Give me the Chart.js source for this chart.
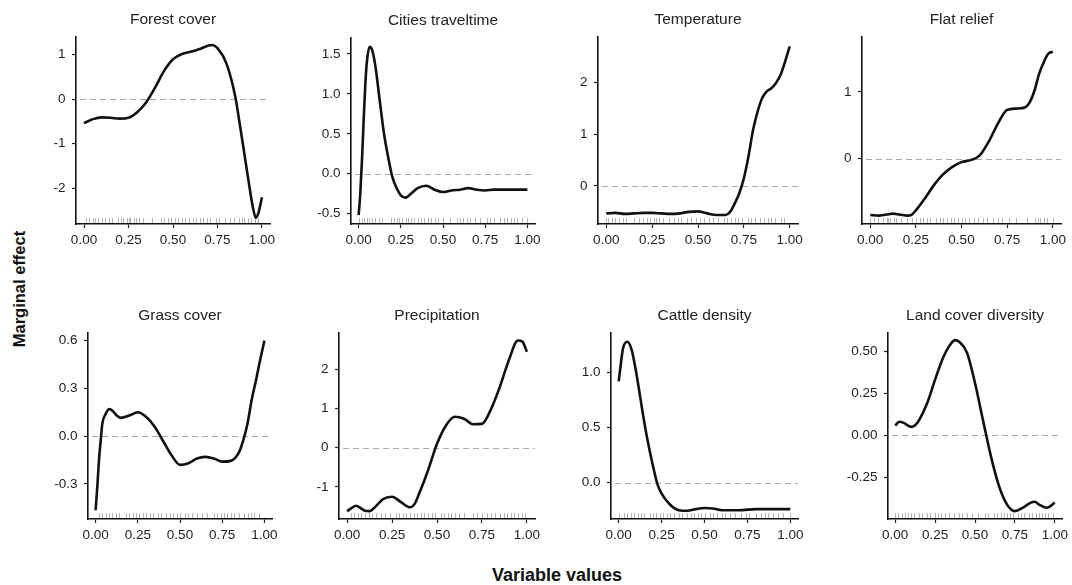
<!DOCTYPE html>
<html>
<head>
<meta charset="utf-8">
<script src="https://cdn.jsdelivr.net/npm/chart.js@4.4.1/dist/chart.umd.min.js"></script>
<style>
  body { margin: 0; background: #fff; }
  #wrap { position: relative; width: 1072px; height: 585px; overflow: hidden; font-family: "Liberation Sans", Arial, sans-serif; }
  #wrap canvas { position: absolute; }
  .axis-title { position: absolute; font-weight: bold; color: #111; white-space: nowrap; line-height: 1; transform: translate(-50%, -50%); }
  #ylab { left: 19px; top: 289px; font-size: 16.5px; transform: translate(-50%, -50%) rotate(-90deg); }
  #xlab { left: 557px; top: 575px; font-size: 18px; }
</style>
</head>
<body>
<div id="wrap">
  <div class="axis-title" id="ylab">Marginal effect</div>
  <div class="axis-title" id="xlab">Variable values</div>
</div>
<script>
const panelTitles = ['Forest cover', 'Cities traveltime', 'Temperature', 'Flat relief',
  'Grass cover', 'Precipitation', 'Cattle density', 'Land cover diversity'];
const xTickValues = [0, 0.25, 0.5, 0.75, 1];

// curves
const forestCoverX = [0, 0.05, 0.1, 0.15, 0.2, 0.25, 0.3, 0.35, 0.4, 0.45, 0.5, 0.55, 0.6, 0.65, 0.7, 0.72, 0.75, 0.8, 0.85, 0.875, 0.9, 0.925, 0.95, 0.965, 0.98, 1.0];
const forestCoverY = [-0.54, -0.45, -0.41, -0.42, -0.44, -0.42, -0.29, -0.07, 0.26, 0.63, 0.89, 1.01, 1.06, 1.12, 1.20, 1.21, 1.14, 0.80, 0.05, -0.56, -1.2, -1.85, -2.45, -2.66, -2.55, -2.2];
const forestCoverTicks = [-2, -1, 0, 1];

const citiesX = [0, 0.01, 0.02, 0.03, 0.04, 0.05, 0.065, 0.08, 0.1, 0.125, 0.15, 0.175, 0.2, 0.225, 0.25, 0.28, 0.3, 0.35, 0.4, 0.45, 0.5, 0.55, 0.6, 0.65, 0.7, 0.75, 0.8, 0.85, 0.9, 1.0];
const citiesY = [-0.52, -0.25, 0.17, 0.67, 1.13, 1.42, 1.59, 1.55, 1.34, 0.92, 0.51, 0.21, -0.04, -0.18, -0.27, -0.30, -0.27, -0.18, -0.15, -0.20, -0.23, -0.21, -0.20, -0.18, -0.20, -0.21, -0.20, -0.20, -0.20, -0.20];
const citiesTicks = [-0.5, 0, 0.5, 1, 1.5];

const temperatureX = [0, 0.05, 0.1, 0.15, 0.2, 0.25, 0.3, 0.35, 0.4, 0.45, 0.5, 0.55, 0.6, 0.65, 0.675, 0.7, 0.725, 0.75, 0.775, 0.8, 0.825, 0.85, 0.875, 0.9, 0.925, 0.95, 0.975, 1.0];
const temperatureY = [-0.53, -0.52, -0.54, -0.53, -0.52, -0.52, -0.53, -0.54, -0.53, -0.50, -0.49, -0.53, -0.56, -0.56, -0.50, -0.34, -0.14, 0.15, 0.57, 1.08, 1.44, 1.70, 1.83, 1.89, 1.99, 2.15, 2.41, 2.70];
const temperatureTicks = [0, 1, 2];

const flatReliefX = [0, 0.05, 0.1, 0.125, 0.15, 0.2, 0.225, 0.25, 0.3, 0.35, 0.4, 0.45, 0.5, 0.55, 0.6, 0.65, 0.7, 0.75, 0.8, 0.85, 0.875, 0.9, 0.925, 0.95, 0.975, 1.0];
const flatReliefY = [-0.84, -0.85, -0.83, -0.82, -0.83, -0.85, -0.84, -0.77, -0.59, -0.39, -0.23, -0.12, -0.05, -0.02, 0.05, 0.26, 0.53, 0.73, 0.75, 0.77, 0.85, 1.02, 1.27, 1.44, 1.57, 1.60];
const flatReliefTicks = [0, 1];

const grassCoverX = [0, 0.01, 0.02, 0.03, 0.04, 0.06, 0.08, 0.1, 0.125, 0.15, 0.2, 0.25, 0.3, 0.35, 0.4, 0.45, 0.5, 0.55, 0.6, 0.65, 0.7, 0.75, 0.8, 0.85, 0.875, 0.9, 0.925, 0.95, 0.975, 1.0];
const grassCoverY = [-0.465, -0.32, -0.15, -0.03, 0.08, 0.14, 0.17, 0.16, 0.13, 0.115, 0.13, 0.15, 0.12, 0.06, -0.03, -0.12, -0.18, -0.17, -0.14, -0.13, -0.14, -0.16, -0.155, -0.10, -0.025, 0.08, 0.23, 0.35, 0.48, 0.60];
const grassCoverTicks = [-0.3, 0, 0.3, 0.6];

const precipitationX = [0, 0.025, 0.05, 0.075, 0.1, 0.125, 0.15, 0.2, 0.25, 0.3, 0.35, 0.375, 0.4, 0.45, 0.5, 0.55, 0.6, 0.65, 0.7, 0.75, 0.8, 0.85, 0.9, 0.95, 0.975, 1.0];
const precipitationY = [-1.62, -1.54, -1.48, -1.54, -1.61, -1.62, -1.54, -1.31, -1.25, -1.39, -1.52, -1.44, -1.18, -0.58, 0.10, 0.57, 0.79, 0.74, 0.60, 0.61, 0.98, 1.56, 2.24, 2.74, 2.71, 2.45];
const precipitationTicks = [-1, 0, 1, 2];

const cattleX = [0, 0.01, 0.025, 0.05, 0.075, 0.1, 0.125, 0.15, 0.175, 0.2, 0.225, 0.25, 0.3, 0.35, 0.4, 0.45, 0.5, 0.55, 0.6, 0.7, 0.8, 0.9, 1.0];
const cattleY = [0.92, 1.05, 1.22, 1.28, 1.21, 1.02, 0.78, 0.54, 0.33, 0.15, -0.01, -0.10, -0.20, -0.25, -0.255, -0.24, -0.23, -0.235, -0.25, -0.25, -0.24, -0.24, -0.24];
const cattleTicks = [0, 0.5, 1];

const landCoverX = [0, 0.025, 0.05, 0.1, 0.125, 0.15, 0.2, 0.25, 0.3, 0.35, 0.375, 0.4, 0.45, 0.5, 0.55, 0.6, 0.65, 0.7, 0.75, 0.8, 0.85, 0.875, 0.9, 0.95, 1.0];
const landCoverY = [0.057, 0.08, 0.075, 0.05, 0.06, 0.09, 0.19, 0.33, 0.46, 0.545, 0.565, 0.555, 0.49, 0.31, 0.09, -0.125, -0.30, -0.41, -0.45, -0.43, -0.40, -0.395, -0.41, -0.43, -0.40];
const landCoverTicks = [-0.25, 0, 0.25, 0.5];

// rug of observed values under each curve
const forestRug = [0.01, 0.03, 0.05, 0.06, 0.08, 0.1, 0.12, 0.14, 0.16, 0.19, 0.21, 0.22, 0.24, 0.25, 0.26, 0.28, 0.29, 0.31, 0.33, 0.38, 0.43, 0.45, 0.47, 0.49, 0.51, 0.53, 0.55, 0.57, 0.59, 0.61, 0.63, 0.65, 0.67, 0.69, 0.71, 0.74, 0.76, 0.79, 0.82, 0.84, 0.87, 0.89, 0.9, 0.92, 0.94, 0.96, 0.98];
const citiesRug = [0.0, 0.02, 0.03, 0.05, 0.06, 0.08, 0.1, 0.12, 0.14, 0.19, 0.21, 0.23, 0.24, 0.26, 0.28, 0.29, 0.31, 0.33, 0.35, 0.37, 0.39, 0.41, 0.43, 0.45, 0.47, 0.5, 0.54, 0.58, 0.6, 0.62, 0.64, 0.66, 0.69, 0.72, 0.76, 0.78, 0.8, 0.84, 0.86, 0.88, 0.9, 0.92, 0.94, 0.97, 1.0];
const temperatureRug = [0.0, 0.01, 0.03, 0.05, 0.07, 0.09, 0.11, 0.15, 0.18, 0.2, 0.22, 0.24, 0.26, 0.27, 0.29, 0.31, 0.34, 0.37, 0.39, 0.41, 0.44, 0.46, 0.49, 0.51, 0.53, 0.56, 0.58, 0.61, 0.64, 0.66, 0.68, 0.7, 0.72, 0.74, 0.77, 0.79, 0.81, 0.84, 0.86, 0.88, 0.9, 0.92, 0.95, 0.97];
const flatReliefRug = [0.0, 0.02, 0.04, 0.07, 0.09, 0.1, 0.11, 0.13, 0.14, 0.17, 0.2, 0.23, 0.25, 0.27, 0.29, 0.31, 0.33, 0.36, 0.38, 0.4, 0.42, 0.44, 0.46, 0.48, 0.5, 0.52, 0.54, 0.57, 0.59, 0.62, 0.64, 0.67, 0.7, 0.72, 0.76, 0.8, 0.86, 0.9, 0.92, 0.93, 0.95, 0.97, 1.0];
const grassRug = [0.02, 0.04, 0.06, 0.08, 0.1, 0.12, 0.14, 0.18, 0.2, 0.22, 0.24, 0.26, 0.28, 0.3, 0.32, 0.34, 0.37, 0.39, 0.42, 0.44, 0.46, 0.48, 0.5, 0.53, 0.55, 0.57, 0.6, 0.63, 0.66, 0.7, 0.72, 0.74, 0.76, 0.78, 0.8, 0.82, 0.85, 0.88, 0.9, 0.92, 0.94, 0.97];
const precipitationRug = [0.02, 0.04, 0.06, 0.08, 0.1, 0.12, 0.14, 0.16, 0.19, 0.21, 0.24, 0.27, 0.29, 0.31, 0.33, 0.35, 0.37, 0.39, 0.41, 0.43, 0.45, 0.47, 0.49, 0.52, 0.54, 0.56, 0.58, 0.6, 0.62, 0.65, 0.7, 0.72, 0.75, 0.78, 0.8, 0.82, 0.85, 0.87, 0.89, 0.91, 0.93, 0.95, 0.97, 0.99];
const cattleRug = [0.0, 0.03, 0.05, 0.07, 0.09, 0.11, 0.13, 0.15, 0.18, 0.2, 0.22, 0.24, 0.26, 0.28, 0.3, 0.32, 0.35, 0.37, 0.4, 0.42, 0.44, 0.46, 0.48, 0.5, 0.53, 0.55, 0.57, 0.6, 0.62, 0.65, 0.68, 0.71, 0.74, 0.76, 0.8, 0.83, 0.85, 0.87, 0.9, 0.93, 0.96, 1.0];
const landCoverRug = [0.0, 0.02, 0.04, 0.06, 0.08, 0.1, 0.12, 0.15, 0.17, 0.2, 0.22, 0.25, 0.27, 0.29, 0.31, 0.34, 0.37, 0.4, 0.42, 0.45, 0.48, 0.52, 0.56, 0.58, 0.62, 0.64, 0.66, 0.68, 0.7, 0.72, 0.74, 0.77, 0.79, 0.81, 0.84, 0.86, 0.88, 0.9, 0.92, 0.94, 0.96, 0.99];

const panelX = [forestCoverX, citiesX, temperatureX, flatReliefX, grassCoverX, precipitationX, cattleX, landCoverX];
const panelY = [forestCoverY, citiesY, temperatureY, flatReliefY, grassCoverY, precipitationY, cattleY, landCoverY];
const panelYTicks = [forestCoverTicks, citiesTicks, temperatureTicks, flatReliefTicks, grassCoverTicks, precipitationTicks, cattleTicks, landCoverTicks];
const panelYDecimals = [0, 1, 0, 0, 1, 0, 1, 2];
const panelRug = [forestRug, citiesRug, temperatureRug, flatReliefRug, grassRug, precipitationRug, cattleRug, landCoverRug];

// plot area of each panel on the page: left, top, right, bottom, y min, y max
const plotBoxes = [
  [76, 37, 270, 224, -2.80, 1.39],
  [351, 38, 535, 224, -0.63, 1.70],
  [598, 37, 798, 224, -0.735, 2.88],
  [862, 37, 1061, 224, -0.975, 1.82],
  [88, 333, 272, 519, -0.52, 0.648],
  [339, 333, 535, 519, -1.82, 2.93],
  [611, 333, 798, 519, -0.33, 1.36],
  [888, 333, 1062, 519, -0.497, 0.607]
];

const Y_W = 50, X_H = 30, TITLE_H = 29, PAD_R = 22;

Chart.defaults.font.family = '"Liberation Sans", Arial, sans-serif';

// dashed zero line and the rug, drawn under the curve
function zeroAndRug(rug) {
  return {
    id: 'zeroAndRug',
    beforeDatasetsDraw(chart) {
      const { ctx, chartArea: a, scales: { x, y } } = chart;
      const y0 = Math.round(y.getPixelForValue(0)) + 0.5;
      ctx.save();
      ctx.lineWidth = 1;
      ctx.strokeStyle = '#aaaaaa';
      ctx.setLineDash([6, 4]);
      ctx.beginPath();
      ctx.moveTo(a.left + 4, y0);
      ctx.lineTo(a.right, y0);
      ctx.stroke();
      ctx.setLineDash([]);
      ctx.strokeStyle = '#b4b4b4';
      ctx.beginPath();
      rug.forEach(v => {
        const px = Math.round(x.getPixelForValue(v)) + 0.5;
        ctx.moveTo(px, a.bottom - 6);
        ctx.lineTo(px, a.bottom - 1);
      });
      ctx.stroke();
      ctx.restore();
    }
  };
}

const wrap = document.getElementById('wrap');

panelTitles.forEach((title, i) => {
  const [left, top, right, bottom, yMin, yMax] = plotBoxes[i];
  const w = right - left + Y_W + PAD_R;
  const h = bottom - top + TITLE_H + X_H;
  const canvas = document.createElement('canvas');
  canvas.width = w;
  canvas.height = h;
  canvas.style.width = w + 'px';
  canvas.style.height = h + 'px';
  canvas.style.left = (left - Y_W) + 'px';
  canvas.style.top = (top - TITLE_H) + 'px';
  wrap.appendChild(canvas);

  const decimals = panelYDecimals[i];

  new Chart(canvas, {
    type: 'line',
    data: {
      datasets: [{
        data: panelX[i].map((x, k) => ({ x: x, y: panelY[i][k] })),
        borderColor: '#111',
        borderWidth: 2.6,
        pointRadius: 0,
        fill: false,
        cubicInterpolationMode: 'monotone'
      }]
    },
    options: {
      responsive: false,
      animation: false,
      devicePixelRatio: 1,
      layout: { padding: { left: 0, right: PAD_R, top: 0, bottom: 0 } },
      plugins: {
        legend: { display: false },
        tooltip: { enabled: false },
        title: {
          display: true,
          text: title,
          fullSize: false,
          color: '#222',
          font: { size: 15.5, weight: 'normal', lineHeight: 1.2 },
          padding: { top: 2.2, bottom: 8.2 }
        }
      },
      scales: {
        x: {
          type: 'linear',
          min: -0.045,
          max: 1.045,
          afterBuildTicks: s => { s.ticks = xTickValues.map(v => ({ value: v })); },
          afterFit: s => { s.height = X_H; },
          ticks: { color: '#222', font: { size: 13.5 }, padding: 4, maxRotation: 0, autoSkip: false,
            callback: v => Number(v).toFixed(2) },
          grid: { drawOnChartArea: false, drawTicks: true, tickLength: 4, tickColor: '#222', tickWidth: 1.2 },
          border: { display: true, color: '#111', width: 1.6 }
        },
        y: {
          type: 'linear',
          min: yMin,
          max: yMax,
          afterBuildTicks: s => { s.ticks = panelYTicks[i].map(v => ({ value: v })); },
          afterFit: s => { s.width = Y_W; },
          ticks: { color: '#222', font: { size: 13.5 }, padding: 6.5, autoSkip: false,
            callback: v => Number(v).toFixed(decimals) },
          grid: { drawOnChartArea: false, drawTicks: true, tickLength: 4, tickColor: '#222', tickWidth: 1.2 },
          border: { display: true, color: '#111', width: 1.6 }
        }
      }
    },
    plugins: [zeroAndRug(panelRug[i])]
  });
});
</script>
</body>
</html>
